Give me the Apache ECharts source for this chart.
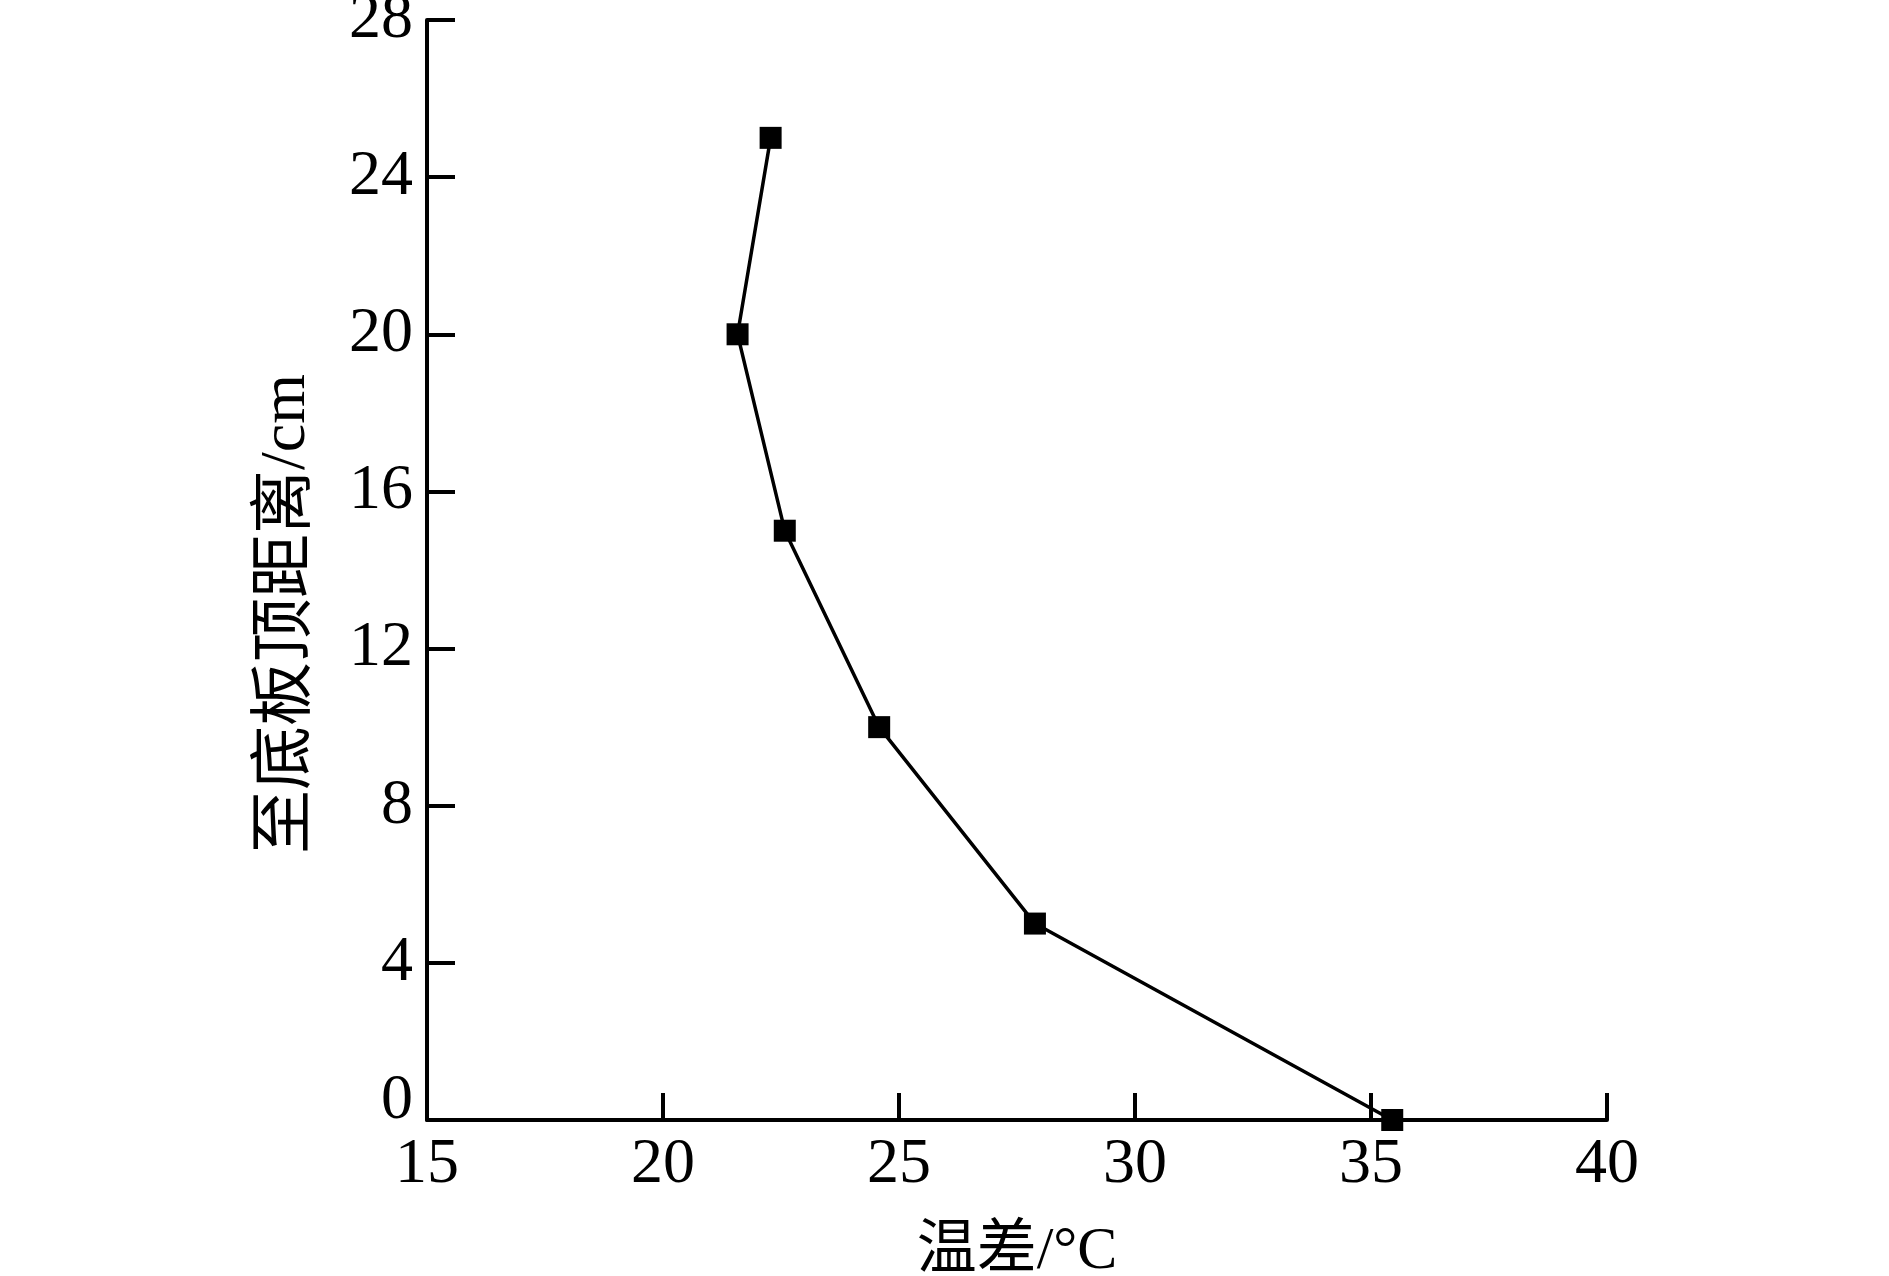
<!DOCTYPE html>
<html>
<head>
    <meta charset="utf-8">
    <title>温差</title>
    <script src="https://cdnjs.cloudflare.com/ajax/libs/echarts/6.0.0/echarts.min.js"></script>
    <style>
        html, body { margin: 0; padding: 0; background: #fff; }
    </style>
</head>
<body>
<div id="main" style="width: 1889px;height:1276px;"></div>
<script type="text/javascript">
    // 温差 (°C) vs 至底板顶距离 (cm)
    var tempDiff = [35.45, 27.88, 24.58, 22.58, 21.58, 22.28];
    var distance = [0, 5, 10, 15, 20, 25];

    var points = [];
    for (var i = 0; i < tempDiff.length; i++) {
        points.push([tempDiff[i], distance[i]]);
    }

    var font = '"Liberation Serif", "Noto Sans CJK SC", serif';
    var myChart = echarts.init(document.getElementById('main'));

    var option = {
        backgroundColor: '#fff',
        animation: false,
        grid: {
            left: 427,
            right: 282,
            top: 20,
            bottom: 156,
            containLabel: false,
            outerBoundsMode: 'none'
        },
        xAxis: {
            type: 'value',
            min: 15,
            max: 40,
            interval: 5,
            name: '温差/°C',
            nameLocation: 'middle',
            nameGap: 102,
            nameTextStyle: {
                fontFamily: font,
                fontSize: 60,
                color: '#000'
            },
            axisLine: { lineStyle: { color: '#000', width: 4 } },
            axisTick: { inside: true, length: 27, lineStyle: { color: '#000', width: 4 } },
            axisLabel: {
                margin: 13,
                fontFamily: font,
                fontSize: 64,
                color: '#000'
            },
            splitLine: { show: false }
        },
        yAxis: {
            type: 'value',
            min: 0,
            max: 28,
            interval: 4,
            name: '至底板顶距离/cm',
            nameLocation: 'middle',
            nameGap: 108,
            nameTextStyle: {
                fontFamily: font,
                fontSize: 64,
                color: '#000',
                padding: [0, 88, 0, 0]
            },
            axisLine: { lineStyle: { color: '#000', width: 4 } },
            axisTick: { inside: true, length: 28, lineStyle: { color: '#000', width: 4 } },
            axisLabel: {
                margin: 14,
                fontFamily: font,
                fontSize: 64,
                color: '#000',
                formatter: function (v) {
                    return v === 0 ? '{z|0}' : String(v);
                },
                rich: {
                    z: {
                        fontFamily: font,
                        fontSize: 64,
                        color: '#000',
                        padding: [0, 0, 38, 0]
                    }
                }
            },
            splitLine: { show: false }
        },
        series: [{
            type: 'line',
            data: points,
            symbol: 'rect',
            symbolSize: 22,
            lineStyle: { color: '#000', width: 3.5 },
            itemStyle: { color: '#000' },
            z: 5
        }]
    };

    myChart.setOption(option);
</script>
</body>
</html>
